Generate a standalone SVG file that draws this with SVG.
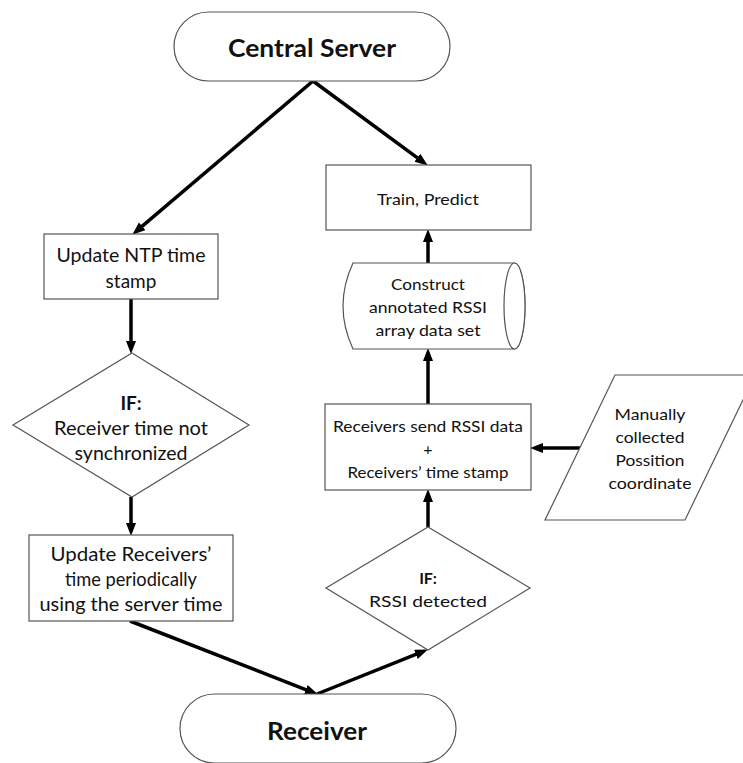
<svg xmlns="http://www.w3.org/2000/svg" width="743" height="763" viewBox="0 0 743 763">
  <style>
    .shape { fill: #ffffff; stroke: #555555; stroke-width: 1.2; }
    .flow { stroke: #000000; stroke-width: 3.5; fill: none; }
    .t { font-family: Lato, "Liberation Sans", sans-serif; font-size: 16px; fill: #111111; text-anchor: middle; dominant-baseline: central; }
    .tl { font-size: 19px; }
    .b { font-weight: bold; }
    .title { font-family: Lato, "Liberation Sans", sans-serif; font-size: 24px; font-weight: bold; fill: #111111; text-anchor: middle; dominant-baseline: central; }
  </style>
  <defs>
    <marker id="head" markerUnits="userSpaceOnUse" markerWidth="13" markerHeight="11" refX="6" refY="5" orient="auto">
      <path d="M0,0 L13,5 L0,10 z" fill="#000000"/>
    </marker>
  </defs>
  <rect width="743" height="763" fill="#ffffff"/>

  <!-- connectors -->
  <g id="connectors">
    <line class="flow" x1="313" y1="81" x2="137.6" y2="230.1" marker-end="url(#head)"/>
    <line class="flow" x1="313" y1="81" x2="422.2" y2="161.4" marker-end="url(#head)"/>
    <line class="flow" x1="131" y1="299" x2="131" y2="347" marker-end="url(#head)"/>
    <line class="flow" x1="131" y1="497" x2="131" y2="529" marker-end="url(#head)"/>
    <line class="flow" x1="130" y1="621" x2="311.4" y2="691.8" marker-end="url(#head)"/>
    <line class="flow" x1="317" y1="694" x2="421.4" y2="652.2" marker-end="url(#head)"/>
    <line class="flow" x1="428" y1="527" x2="428" y2="496" marker-end="url(#head)"/>
    <line class="flow" x1="580" y1="448" x2="537" y2="448" marker-end="url(#head)"/>
    <line class="flow" x1="428" y1="404" x2="428" y2="355" marker-end="url(#head)"/>
    <line class="flow" x1="428" y1="263" x2="428" y2="236" marker-end="url(#head)"/>
  </g>

  <!-- start terminator -->
  <g id="central-server">
    <rect class="shape" x="174" y="12" width="276" height="69" rx="34.5" ry="34.5"/>
    <text class="title" x="312" y="47" textLength="168" lengthAdjust="spacingAndGlyphs">Central Server</text>
  </g>

  <g id="update-ntp">
    <rect class="shape" x="44" y="234" width="174" height="65"/>
    <text class="t tl" x="131" y="254" textLength="149" lengthAdjust="spacingAndGlyphs">Update NTP time</text>
    <text class="t tl" x="131" y="280">stamp</text>
  </g>

  <g id="sync-check">
    <polygon class="shape" points="132,353 249,425 132,497 13,425"/>
    <text class="t tl b" x="131" y="402">IF:</text>
    <text class="t tl" x="131" y="427" textLength="154" lengthAdjust="spacingAndGlyphs">Receiver time not</text>
    <text class="t tl" x="131" y="452" textLength="113" lengthAdjust="spacingAndGlyphs">synchronized</text>
  </g>

  <g id="update-receivers">
    <rect class="shape" x="29" y="535" width="204" height="86"/>
    <text class="t tl" x="131" y="553" textLength="161" lengthAdjust="spacingAndGlyphs">Update Receivers’</text>
    <text class="t tl" x="131" y="578" textLength="132" lengthAdjust="spacingAndGlyphs">time periodically</text>
    <text class="t tl" x="131" y="603" textLength="183" lengthAdjust="spacingAndGlyphs">using the server time</text>
  </g>

  <!-- end terminator -->
  <g id="receiver">
    <rect class="shape" x="180" y="694" width="276" height="69" rx="34.5" ry="34.5"/>
    <text class="title" x="317" y="730" textLength="100" lengthAdjust="spacingAndGlyphs">Receiver</text>
  </g>

  <g id="rssi-check">
    <polygon class="shape" points="428,527 530,588 428,650 326,588"/>
    <text class="t b" x="428" y="577">IF:</text>
    <text class="t" x="428" y="600" textLength="118" lengthAdjust="spacingAndGlyphs">RSSI detected</text>
  </g>

  <g id="send-rssi">
    <rect class="shape" x="325" y="404" width="206" height="86"/>
    <text class="t" x="428" y="425" textLength="190" lengthAdjust="spacingAndGlyphs">Receivers send RSSI data</text>
    <text class="t" x="428" y="448">+</text>
    <text class="t" x="428" y="471" textLength="161" lengthAdjust="spacingAndGlyphs">Receivers’ time stamp</text>
  </g>

  <g id="position-input">
    <polygon class="shape" points="615,375 755,375 685,520 545,520"/>
    <text class="t" x="650" y="413" textLength="71" lengthAdjust="spacingAndGlyphs">Manually</text>
    <text class="t" x="650" y="436" textLength="69" lengthAdjust="spacingAndGlyphs">collected</text>
    <text class="t" x="650" y="459" textLength="69" lengthAdjust="spacingAndGlyphs">Possition</text>
    <text class="t" x="650" y="482" textLength="83" lengthAdjust="spacingAndGlyphs">coordinate</text>
  </g>

  <g id="dataset">
    <path class="shape" d="M353,263 L514.5,263 A10.5,43 0 0 1 514.5,349 L353,349 Q333,306 353,263 z"/>
    <ellipse class="shape" cx="514.5" cy="306" rx="10.5" ry="43" fill="none"/>
    <text class="t" x="428" y="283" textLength="74" lengthAdjust="spacingAndGlyphs">Construct</text>
    <text class="t" x="428" y="306" textLength="118" lengthAdjust="spacingAndGlyphs">annotated RSSI</text>
    <text class="t" x="428" y="329" textLength="105" lengthAdjust="spacingAndGlyphs">array data set</text>
  </g>

  <g id="train-predict">
    <rect class="shape" x="326" y="165" width="205" height="65"/>
    <text class="t" x="428" y="198" textLength="102" lengthAdjust="spacingAndGlyphs">Train, Predict</text>
  </g>
</svg>
